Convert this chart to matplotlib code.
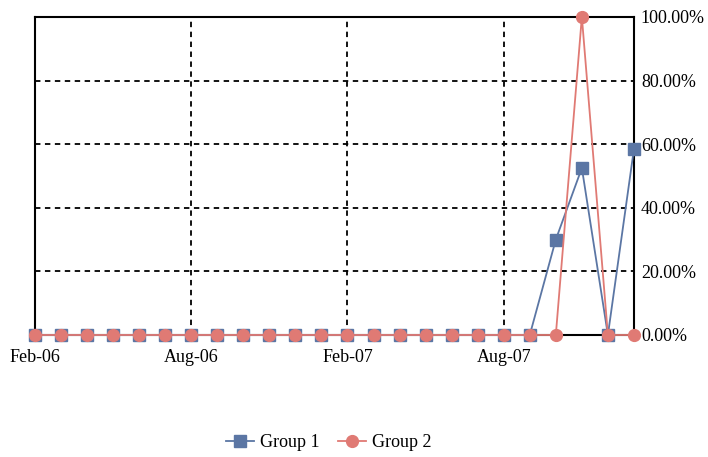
import matplotlib
matplotlib.use("Agg")
import matplotlib.pyplot as plt
from matplotlib.ticker import FuncFormatter

plt.rcParams['font.family'] = ['Liberation Serif', 'DejaVu Serif']

months = ['Feb-06', 'Mar-06', 'Apr-06', 'May-06', 'Jun-06', 'Jul-06', 'Aug-06', 'Sep-06',
          'Oct-06', 'Nov-06', 'Dec-06', 'Jan-07', 'Feb-07', 'Mar-07', 'Apr-07', 'May-07',
          'Jun-07', 'Jul-07', 'Aug-07', 'Sep-07', 'Oct-07', 'Nov-07', 'Dec-07', 'Jan-08']
group1 = [0, 0, 0, 0, 0, 0, 0, 0, 0, 0, 0, 0, 0, 0, 0, 0, 0, 0, 0, 0, 0.30, 0.525, 0, 0.585]
group2 = [0, 0, 0, 0, 0, 0, 0, 0, 0, 0, 0, 0, 0, 0, 0, 0, 0, 0, 0, 0, 0, 1.0, 0, 0]
tick_idx = [0, 6, 12, 18]

BLUE = '#5b76a4'
RED = '#e07a74'
FS = 13

fig = plt.figure(figsize=(7.08, 4.57), dpi=100)
ax = fig.add_axes([0.0494, 0.267, 0.846, 0.696])

x = list(range(len(months)))
ax.plot(x, group1, color=BLUE, lw=1.3, marker='s', ms=8.5, label='Group 1', clip_on=False, zorder=3)
ax.plot(x, group2, color=RED, lw=1.3, marker='o', ms=8.5, label='Group 2', clip_on=False, zorder=4)

ax.set_xlim(0, len(months) - 1)
ax.set_ylim(0, 1.0)
ax.set_xticks(tick_idx)
ax.set_xticklabels([months[i] for i in tick_idx], fontsize=FS)
ax.set_yticks([0, 0.2, 0.4, 0.6, 0.8, 1.0])
ax.yaxis.set_major_formatter(FuncFormatter(lambda v, p: '%.2f%%' % (v * 100)))
ax.yaxis.tick_right()
ax.tick_params(axis='y', length=0, pad=5, labelsize=FS)
ax.tick_params(axis='x', length=0, pad=10)

ax.grid(True, color='black', linestyle=(0, (3, 2.5)), lw=1.3)
for s in ax.spines.values():
    s.set_color('black')
    s.set_linewidth(1.5)

ax.legend(loc='upper center', bbox_to_anchor=(0.49, -0.26), ncol=2, frameon=False,
          fontsize=FS, handlelength=1.6, columnspacing=1.0, handletextpad=0.3)

fig.savefig('out.png', dpi=100)
